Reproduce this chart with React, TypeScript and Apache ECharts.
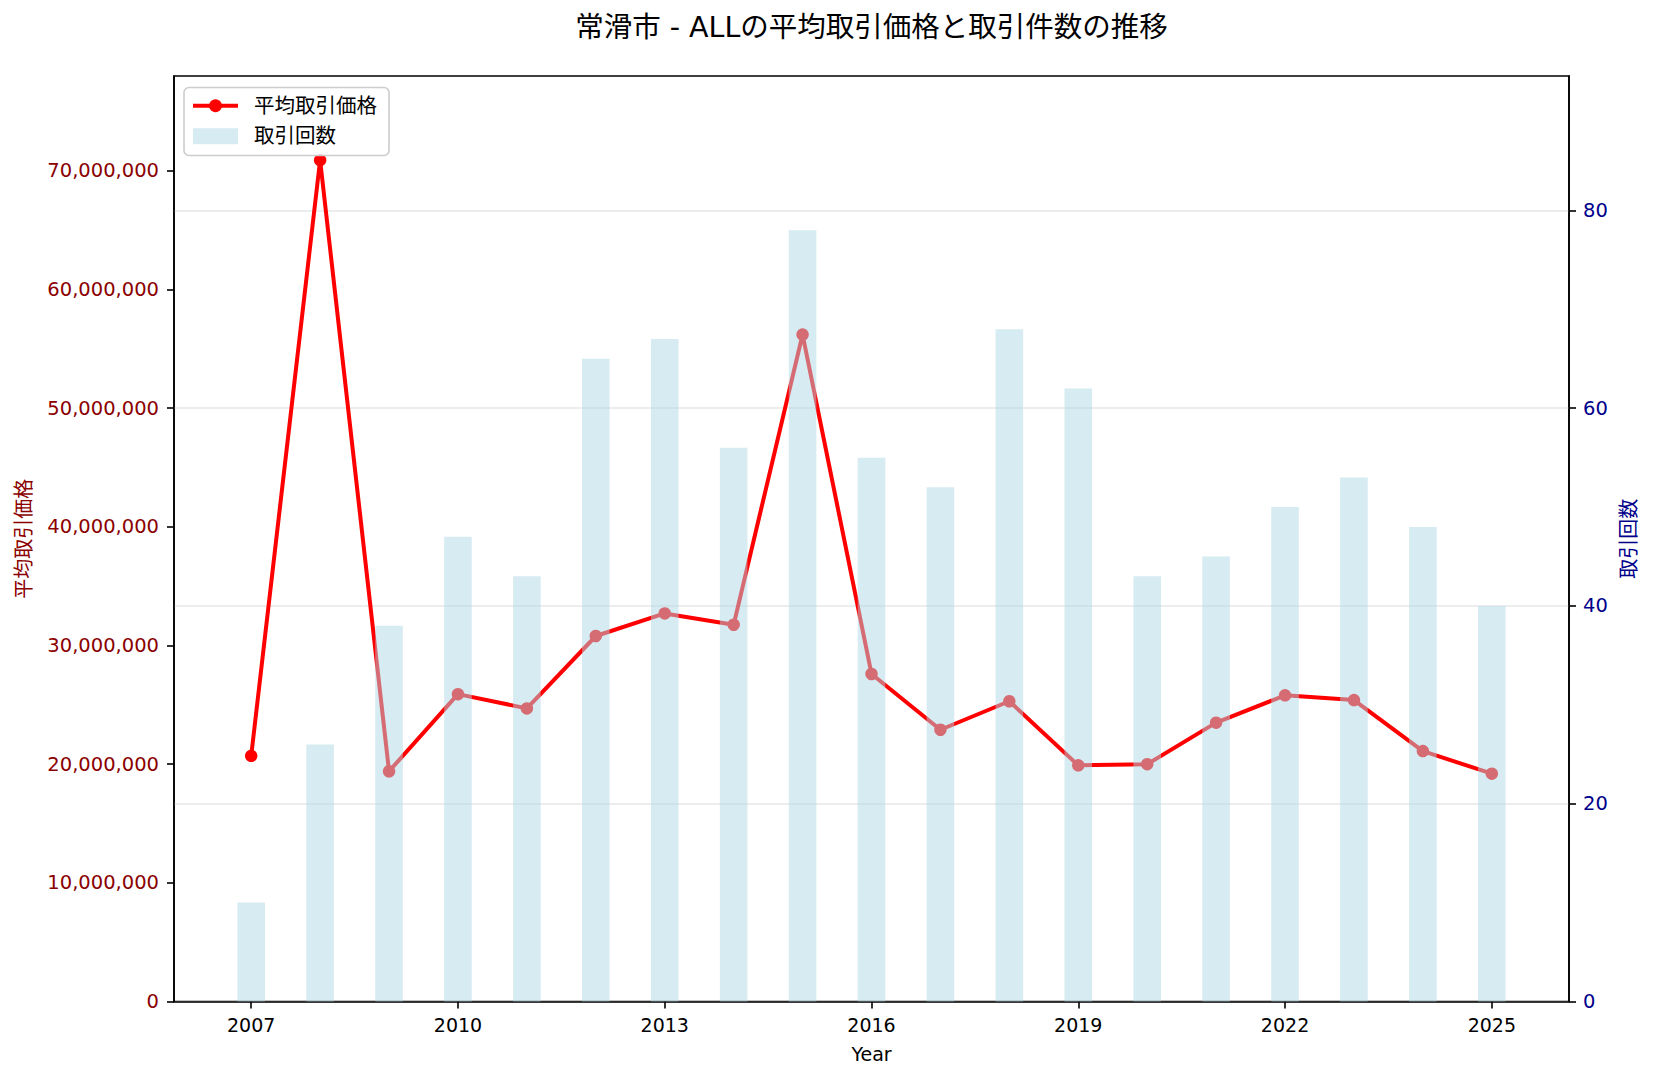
import React, { useEffect, useRef } from 'react';
import * as echarts from 'echarts';

const years = [2007, 2008, 2009, 2010, 2011, 2012, 2013, 2014, 2015, 2016, 2017, 2018, 2019, 2020, 2021, 2022, 2023, 2024, 2025];
const avgPrice = [20700000, 70900000, 19400000, 25900000, 24700000, 30800000, 32700000, 31750000, 56200000, 27600000, 22900000, 25300000, 19900000, 20000000, 23500000, 25800000, 25400000, 21100000, 19200000];
const counts = [10, 26, 38, 47, 43, 65, 67, 56, 78, 55, 52, 68, 62, 43, 45, 50, 53, 48, 40];
const xTicks = [2007, 2010, 2013, 2016, 2019, 2022, 2025];
const leftTicks = [0, 10000000, 20000000, 30000000, 40000000, 50000000, 60000000, 70000000];
const rightTicks = [0, 20, 40, 60, 80];

const TITLE = '常滑市 - ALLの平均取引価格と取引件数の推移';
const LINE_NAME = '平均取引価格';
const BAR_NAME = '取引回数';
const FONT = '"DejaVu Sans", "Noto Sans CJK JP", sans-serif';

export default function App() {
  const ref = useRef<HTMLDivElement>(null);
  useEffect(() => {
    const chart = echarts.init(ref.current!, null, { renderer: 'svg' });
    const W = 1653, H = 1079;
    const gl = 174, gr = 84, gt = 76, gb = 77.5;
    const barRel = 0.4;
    const lo = years[0] - barRel / 2;
    const hi = years[years.length - 1] + barRel / 2;
    const pad = (hi - lo) * 0.05;
    const xMin = lo - pad, xMax = hi + pad;
    const pxPerYear = (W - gl - gr) / (xMax - xMin);
    const leftMax = Math.max(...avgPrice) * 1.1;
    const rightMax = Math.max(...counts) * 1.2;

    chart.setOption({
      animation: false,
      backgroundColor: '#ffffff',
      textStyle: { fontFamily: FONT },
      graphic: [
        {
          type: 'text',
          x: gl + (W - gl - gr) / 2,
          y: 27,
          style: { text: TITLE, fontSize: 28.5, fontFamily: FONT, fill: '#000', textAlign: 'center', textVerticalAlign: 'middle' },
        },
      ],
      grid: { left: gl, right: gr, top: gt, bottom: gb, show: true, borderColor: '#000', borderWidth: 1.6, backgroundColor: 'transparent' },
      legend: {
        orient: 'vertical',
        left: 184,
        top: 87.5,
        padding: [8, 12, 9, 7],
        itemGap: 10,
        itemWidth: 45,
        itemHeight: 16,
        backgroundColor: 'rgba(255,255,255,0.8)',
        borderColor: '#cccccc',
        borderWidth: 1.6,
        borderRadius: 5,
        lineStyle: { width: 4 },
        textStyle: { fontSize: 20.5, fontFamily: FONT, color: '#000', padding: [0, 0, 0, 11] },
        data: [{ name: LINE_NAME }, { name: BAR_NAME, icon: 'rect' }],
      },
      xAxis: [
        {
          type: 'value',
          min: xMin,
          max: xMax,
          name: 'Year',
          nameLocation: 'middle',
          nameGap: 43,
          nameTextStyle: { fontSize: 19, color: '#000', fontFamily: FONT },
          axisLine: { show: true, lineStyle: { color: '#000', width: 1.6 } },
          axisTick: { show: true, length: 7, lineStyle: { color: '#000', width: 1.6 }, customValues: xTicks },
          axisLabel: { fontSize: 19, color: '#000', margin: 14, customValues: xTicks, formatter: (v: number) => String(v) },
          splitLine: { show: false },
        },
      ],
      yAxis: [
        {
          type: 'value',
          position: 'left',
          min: 0,
          max: leftMax,
          name: LINE_NAME,
          nameLocation: 'middle',
          nameRotate: 90,
          nameGap: 140,
          nameTextStyle: { fontSize: 20, color: '#8B0000', fontFamily: FONT },
          axisLine: { show: true, lineStyle: { color: '#000', width: 1.6 } },
          axisTick: { show: true, length: 7, lineStyle: { color: '#000', width: 1.6 }, customValues: leftTicks },
          axisLabel: { fontSize: 19.5, color: '#8B0000', margin: 15, customValues: leftTicks, formatter: (v: number) => Math.round(v).toLocaleString('en-US') },
          splitLine: { show: false },
        },
        {
          type: 'value',
          position: 'right',
          min: 0,
          max: rightMax,
          name: BAR_NAME,
          nameLocation: 'middle',
          nameRotate: 90,
          nameGap: 46,
          nameTextStyle: { fontSize: 20, color: '#00008B', fontFamily: FONT },
          axisLine: { show: true, lineStyle: { color: '#000', width: 1.6 } },
          axisTick: { show: true, length: 7, lineStyle: { color: '#000', width: 1.6 }, customValues: rightTicks },
          axisLabel: { fontSize: 19.5, color: '#00008B', margin: 14, customValues: rightTicks },
          splitLine: { show: true, lineStyle: { color: '#e7e7e7', width: 1.6 } },
        },
      ],
      series: [
        {
          name: LINE_NAME,
          type: 'line',
          xAxisIndex: 0,
          yAxisIndex: 0,
          data: years.map((y, i) => [y, avgPrice[i]]),
          symbol: 'circle',
          symbolSize: 12.5,
          lineStyle: { color: '#ff0000', width: 4 },
          itemStyle: { color: '#ff0000' },
          z: 2,
        },
        {
          name: BAR_NAME,
          type: 'bar',
          xAxisIndex: 0,
          yAxisIndex: 1,
          data: years.map((y, i) => [y, counts[i]]),
          barWidth: pxPerYear * barRel,
          itemStyle: { color: 'rgba(173,216,230,0.5)' },
          z: 3,
        },
      ],
    });
    return () => chart.dispose();
  }, []);
  return <div ref={ref} style={{ position: 'absolute', left: 0, top: 0, width: 1653, height: 1079, background: '#fff' }} />;
}
